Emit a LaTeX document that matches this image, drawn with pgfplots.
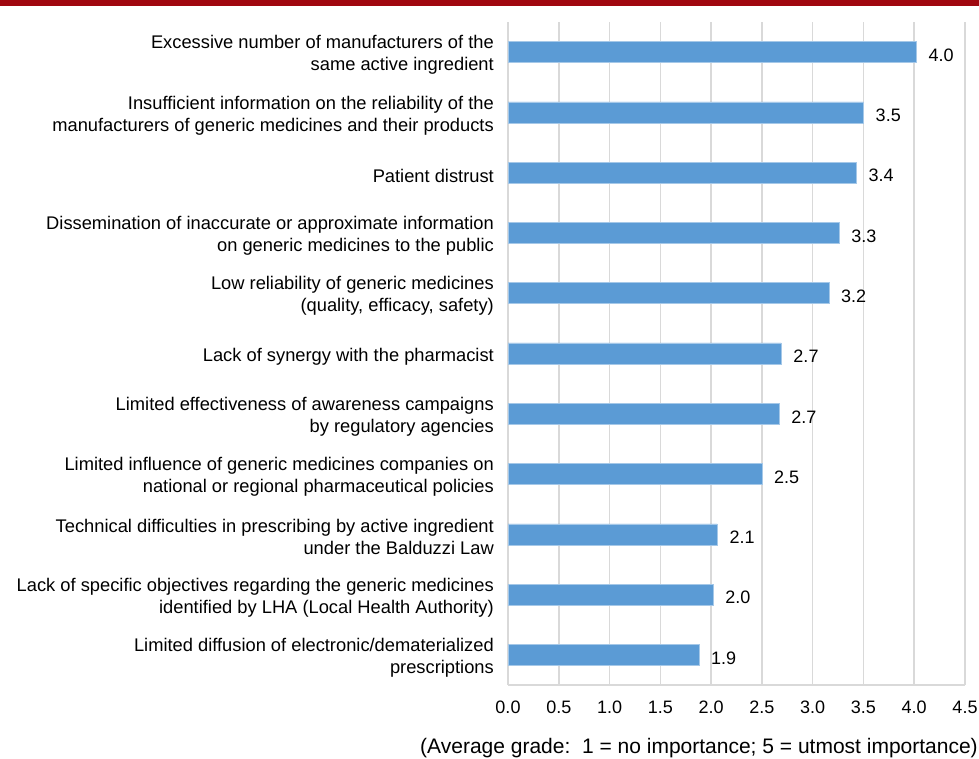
\documentclass[border=0pt]{standalone}
\usepackage{pgfplots}
\pgfplotsset{compat=1.18}
\usepackage{fontspec}
\setmainfont{Liberation Sans}
\definecolor{barblue}{HTML}{5B9BD5}
\definecolor{gridgray}{HTML}{D9D9D9}
\definecolor{topred}{HTML}{A0070F}
\newcommand{\bigf}{\fontsize{18}{21.5}\selectfont}
\newcommand{\labf}{\fontsize{18.3}{22}\selectfont}
\begin{document}
\bigf
\begin{tikzpicture}[x=1pt,y=1pt]
\path[use as bounding box] (0,0) rectangle (979,759);
\fill[topred] (0,753) rectangle (979,759);
\begin{axis}[
  at={(508pt,74pt)}, anchor=south west,
  scale only axis, width=457pt, height=663pt,
  xmin=0, xmax=4.5, ymin=-0.5, ymax=10.5,
  xbar, bar width=21pt,
  /pgf/number format/assume math mode=true,
  xtick={0,0.5,1,1.5,2,2.5,3,3.5,4,4.5},
  xticklabel style={/pgf/number format/fixed, /pgf/number format/fixed zerofill, /pgf/number format/precision=1,
    anchor=center, yshift=-22pt, inner sep=0pt, font=\bigf},
  ytick={0,1,2,3,4,5,6,7,8,9,10},
  yticklabels={
    {Limited diffusion of electronic/dematerialized\\prescriptions},
    {Lack of specific objectives regarding the generic medicines\\identified by LHA (Local Health Authority)},
    {Technical difficulties in prescribing by active ingredient\\under the Balduzzi Law},
    {Limited influence of generic medicines companies on\\national or regional pharmaceutical policies},
    {Limited effectiveness of awareness campaigns\\by regulatory agencies},
    {Lack of synergy with the pharmacist},
    {Low reliability of generic medicines\\(quality, efficacy, safety)},
    {Dissemination of inaccurate or approximate information\\on generic medicines to the public},
    {Patient distrust},
    {Insufficient information on the reliability of the\\manufacturers of generic medicines and their products},
    {Excessive number of manufacturers of the\\same active ingredient}},
  yticklabel style={align=right, anchor=east, inner sep=0pt, xshift=-14pt, yshift=-3pt, font=\labf},
  major tick length=0pt,
  axis x line*=bottom, axis y line*=left,
  axis line style={gridgray, line width=1.5pt, -},
  xmajorgrids, major grid style={gridgray, line width=1.5pt},
  xlabel={(Average grade:\ \ 1 = no importance; 5 = utmost importance)},
  xlabel style={at={(axis description cs:1,0)}, anchor=east, xshift=13pt, yshift=-63pt, inner sep=0pt,
    font=\fontsize{21}{25}\selectfont},
  point meta=x,
  nodes near coords={\pgfmathprintnumber[fixed, fixed zerofill, precision=1]{\pgfplotspointmeta}},
  nodes near coords style={anchor=west, inner sep=0pt, xshift=12pt, yshift=-3pt, black, font=\bigf},
]
\addplot[fill=barblue, draw=barblue!55!white, line width=0.6pt] coordinates {
  (1.88,0) (2.02,1) (2.06,2) (2.50,3) (2.67,4) (2.69,5)
  (3.16,6) (3.26,7) (3.43,8) (3.50,9) (4.02,10)
};
\end{axis}
\end{tikzpicture}
\end{document}
